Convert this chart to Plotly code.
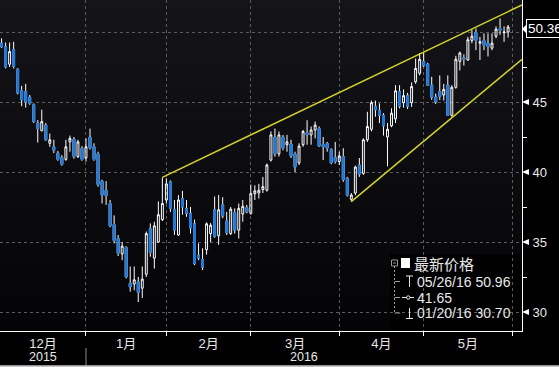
import pandas as pd
import plotly.graph_objects as go

# ---------------- data ----------------
holidays = ["2015-12-25", "2016-01-01", "2016-03-25"]
trade_dates = [d for d in pd.bdate_range("2015-12-02", "2016-05-31")
               if d.strftime("%Y-%m-%d") not in holidays]

opens = [
    49.2, 48.95, 47.7, 48.75, 47.35, 45.8, 45.75, 45.35, 44.8, 43.5, 42.95, 43.35, 42.05, 41.8, 41.35, 41.05, 40.9, 42.15, 42.35, 41.1, 41.7,
    41.0, 42.5, 41.8, 41.3, 39.35, 38.7, 37.75, 36.25, 35.25, 34.15, 34.6, 32.05, 32.0, 32.15, 31.7, 32.7, 35.95, 33.85, 35.0, 36.6,
    38.0, 39.3, 37.3, 35.5, 38.1, 37.4, 37.05, 36.3, 34.05, 33.75, 34.45, 35.6, 37.3, 35.45, 37.65, 36.5, 35.6, 37.1, 35.85, 37.0, 37.45,
    37.05, 38.45, 38.5, 38.75, 38.7, 40.85, 42.5, 41.3, 42.5, 41.95, 42.0, 41.3, 40.65, 41.95, 42.8, 42.65, 43.0, 43.1, 41.95, 42.05, 41.6, 41.05,
    40.75, 41.1, 39.55, 38.05, 38.5, 40.5, 39.9, 42.3, 43.05, 44.7, 44.4, 44.05, 42.5, 43.3, 43.8, 45.75, 44.95, 45.45, 44.95, 46.45, 47.05,
    47.9, 47.7, 46.2, 45.35, 45.75, 45.5, 46.2, 44.05, 46.05, 47.9, 48.15, 48.0, 49.4, 49.95, 49.2, 49.4, 49.2, 48.85, 49.7, 50.25, 49.95, 50.0,
]
highs = [
    49.55, 49.25, 49.25, 49.3, 47.4, 46.15, 46.3, 45.5, 44.9, 43.7, 44.45, 43.5, 42.75, 42.3, 41.5, 41.2, 42.3, 42.6, 42.5, 42.3, 41.85,
    42.4, 43.1, 42.05, 41.45, 39.45, 39.35, 38.0, 36.9, 35.5, 35.0, 34.7, 33.25, 33.25, 32.5, 33.25, 35.75, 36.33, 36.45, 37.9, 39.62,
    39.55, 39.4, 38.0, 38.35, 38.65, 38.0, 37.5, 36.6, 34.9, 34.55, 36.4, 36.35, 38.25, 38.35, 38.2, 37.15, 37.5, 37.4, 37.75, 38.0, 37.65,
    39.1, 39.05, 39.15, 39.65, 40.6, 42.9, 43.1, 42.9, 42.65, 42.65, 42.3, 41.45, 42.05, 43.0, 43.7, 43.25, 43.6, 43.25, 42.5, 42.15, 41.7, 42.15,
    41.45, 41.7, 39.65, 38.5, 40.45, 41.0, 42.4, 44.3, 45.1, 45.1, 44.9, 44.2, 43.5, 44.55, 46.2, 46.2, 45.9, 45.65, 46.4, 48.1, 48.5,
    48.55, 47.8, 46.8, 45.6, 46.9, 46.3, 46.9, 46.2, 48.3, 48.6, 48.4, 49.65, 50.15, 50.25, 49.65, 49.9, 49.9, 49.9, 50.4, 50.96, 50.4, 50.5,
]
lows = [
    48.85, 47.4, 47.5, 47.4, 45.55, 44.7, 44.6, 44.8, 43.5, 42.1, 42.9, 42.25, 41.8, 41.35, 40.8, 40.45, 40.8, 41.45, 40.95, 41.0, 40.8,
    40.75, 41.6, 40.8, 38.95, 37.75, 37.65, 36.05, 34.9, 34.0, 33.7, 32.4, 31.45, 31.55, 30.7, 31.0, 32.5, 33.95, 33.1, 34.95, 36.5,
    37.75, 37.15, 35.5, 35.45, 36.95, 36.8, 35.6, 33.35, 33.7, 33.0, 34.1, 35.0, 35.3, 34.8, 36.7, 35.5, 35.5, 35.6, 35.25, 36.45, 37.05,
    36.95, 38.0, 38.1, 38.5, 38.6, 40.75, 41.1, 41.1, 41.55, 41.45, 41.0, 40.0, 40.5, 41.8, 41.95, 41.95, 42.4, 41.8, 40.85, 41.45, 40.55, 40.6,
    40.5, 39.3, 38.25, 37.88, 38.35, 39.65, 39.8, 42.15, 42.9, 43.95, 43.5, 42.6, 40.4, 43.2, 43.5, 44.55, 44.6, 44.5, 44.65, 46.3, 46.9,
    47.5, 46.15, 45.15, 44.85, 45.15, 45.1, 44.0, 43.95, 45.95, 47.25, 47.6, 47.95, 49.2, 48.7, 48.0, 48.7, 48.25, 48.7, 49.55, 49.8, 49.3, 49.6,
]
closes = [
    48.95, 47.5, 48.6, 47.55, 45.65, 45.15, 45.0, 44.9, 43.6, 43.1, 43.6, 42.3, 42.3, 41.55, 40.9, 40.55, 41.8, 42.4, 41.1, 42.15, 40.9,
    41.8, 41.7, 40.9, 39.1, 38.35, 38.3, 36.15, 35.1, 34.2, 34.7, 32.5, 31.8, 32.3, 31.4, 32.35, 35.6, 34.25, 36.15, 36.95, 37.75,
    39.15, 37.4, 35.85, 38.0, 37.5, 37.05, 36.0, 33.45, 33.85, 33.2, 36.3, 36.2, 35.4, 37.3, 36.85, 35.65, 37.35, 35.85, 37.4, 37.55, 37.15,
    38.45, 38.65, 38.7, 38.95, 40.5, 42.65, 41.3, 42.65, 41.7, 42.15, 41.15, 40.35, 41.85, 42.9, 42.65, 43.0, 43.35, 41.85, 41.8, 41.7, 40.65, 40.75,
    41.15, 39.45, 38.35, 38.35, 40.35, 39.85, 42.3, 43.25, 44.95, 44.45, 44.05, 43.3, 43.05, 44.2, 45.8, 44.7, 45.45, 44.7, 46.1, 47.4, 48.05,
    47.6, 46.2, 45.35, 45.0, 45.4, 45.9, 44.05, 46.05, 48.05, 48.5, 48.05, 49.45, 49.7, 49.4, 49.3, 49.05, 48.95, 49.2, 50.2, 50.1, 50.0, 50.36,
]

month_labels = ["12月", "1月", "2月", "3月", "4月", "5月"]
year_labels = ["2015", "2016"]
y_tick_vals = [30, 35, 40, 45, 50]
y_tick_text = ["30", "35", "40", "45", ""]
y_minor_vals = [32.5, 37.5, 42.5, 47.5]
last_price = 50.36
legend_title = "最新价格"
legend_rows = ["05/26/16 50.96", "41.65", "01/20/16 30.70"]
trend_start_dates = ["2016-01-29", "2016-04-06"]
trend_start_prices = [39.62, 37.88]
trend_edge_prices = [51.93, 48.05]

# ---------------- layout geometry ----------------
W, H = 559, 367
PLOT_R, PLOT_B = 522, 331          # plot area right / bottom edge in px
X_MIN, X_MAX = -0.39, 129.46
Y_MIN, Y_MAX = 28.643, 52.286

n = len(trade_dates)
idx = list(range(n))
date_str = [d.strftime("%Y-%m-%d") for d in trade_dates]

def PX(px):
    return px / PLOT_R

def PY(py):
    return (PLOT_B - py) / PLOT_B

# month boundaries (first trading day of each month) and label centres
bounds = [i for i in range(1, n) if trade_dates[i].month != trade_dates[i - 1].month]
bounds_all = bounds + [n]                      # start of the next (June) month
starts = [X_MIN] + bounds
month_centres = [(a + b) / 2 for a, b in zip(starts, bounds_all)]
year_split = bounds[0]
year_centres = [(X_MIN + year_split) / 2, (year_split + X_MAX) / 2]

BLUE = "#1f78d8"
YELLOW = "#d2d22c"
GRID = "#5c5c5c"
TXT = "#e8e8e8"
FONT = "Liberation Sans, Noto Sans CJK SC, sans-serif"
CJK = "Noto Sans CJK SC, sans-serif"

fig = go.Figure()

# all candles (white wicks, hollow up bodies)
fig.add_trace(go.Candlestick(
    x=idx, open=opens, high=highs, low=lows, close=closes,
    increasing=dict(line=dict(color="white", width=1), fillcolor="rgba(0,0,0,0)"),
    decreasing=dict(line=dict(color="white", width=1), fillcolor=BLUE),
    whiskerwidth=0, hoverinfo="skip", showlegend=False,
))
# blue body overlay for down candles
dn = [i for i in idx if closes[i] < opens[i]]
fig.add_trace(go.Candlestick(
    x=dn, open=[opens[i] for i in dn], close=[closes[i] for i in dn],
    high=[opens[i] for i in dn], low=[closes[i] for i in dn],
    increasing=dict(line=dict(color=BLUE, width=1), fillcolor=BLUE),
    decreasing=dict(line=dict(color=BLUE, width=1), fillcolor=BLUE),
    whiskerwidth=0, hoverinfo="skip", showlegend=False,
))

# trend lines
for d, p0, p1 in zip(trend_start_dates, trend_start_prices, trend_edge_prices):
    i0 = date_str.index(d)
    fig.add_trace(go.Scatter(x=[i0, X_MAX], y=[p0, p1], mode="lines",
                             line=dict(color=YELLOW, width=1.5),
                             hoverinfo="skip", showlegend=False))

shapes = []
# background gradient
NB = 30
top_c, bot_c = (21, 21, 25), (4, 4, 7)
for k in range(NB):
    t = (k + 0.5) / NB
    c = tuple(round(top_c[j] + (bot_c[j] - top_c[j]) * t) for j in range(3))
    shapes.append(dict(type="rect", xref="paper", yref="paper", x0=0, x1=1,
                       y0=1 - (k + 1) / NB, y1=1 - k / NB + 0.002,
                       fillcolor="rgb(%d,%d,%d)" % c, line=dict(width=0), layer="below"))

# legend background
shapes.append(dict(type="rect", xref="paper", yref="paper", x0=PX(390), x1=PX(520.5),
                   y0=PY(330.5), y1=PY(254), fillcolor="black", line=dict(width=0), layer="between"))

# y tick markers (small triangles on the axis)
for v in y_tick_vals[:4]:
    shapes.append(dict(type="path", xref="paper", yref="y", xsizemode="pixel", ysizemode="pixel",
                       xanchor=1, yanchor=v, path="M0,0 L7,3 L7,-3 Z",
                       fillcolor="white", line=dict(width=0), layer="above"))
# last price marker
shapes.append(dict(type="path", xref="paper", yref="y", xsizemode="pixel", ysizemode="pixel",
                   xanchor=1, yanchor=last_price, path="M0,-2 L5,3 L5,-7 Z",
                   fillcolor="white", line=dict(width=0), layer="above"))

# legend tree / icons
LG = "#9a9a9a"
shapes += [
    dict(type="rect", xref="paper", yref="paper", x0=PX(391.5), x1=PX(397.5), y0=PY(266), y1=PY(260),
         line=dict(color=LG, width=1), fillcolor="rgba(0,0,0,0)", layer="above"),
    dict(type="line", xref="paper", yref="paper", x0=PX(393), x1=PX(396), y0=PY(263), y1=PY(263),
         line=dict(color=LG, width=1), layer="above"),
    dict(type="rect", xref="paper", yref="paper", x0=PX(401), x1=PX(410), y0=PY(268), y1=PY(258),
         line=dict(width=0), fillcolor="white", layer="above"),
    dict(type="line", xref="paper", yref="paper", x0=PX(394.5), x1=PX(394.5), y0=PY(266), y1=PY(313),
         line=dict(color=LG, width=1, dash="2px,2px"), layer="above"),
]
for ry in [281.5, 297.5, 313]:
    shapes.append(dict(type="line", xref="paper", yref="paper", x0=PX(394.5), x1=PX(400), y0=PY(ry), y1=PY(ry),
                       line=dict(color=LG, width=1), layer="above"))
# high marker (T), average marker (-o-), low marker (⊥)
shapes += [
    dict(type="line", xref="paper", yref="paper", x0=PX(406), x1=PX(413), y0=PY(276), y1=PY(276),
         line=dict(color=TXT, width=1), layer="above"),
    dict(type="line", xref="paper", yref="paper", x0=PX(409.5), x1=PX(409.5), y0=PY(276), y1=PY(287),
         line=dict(color=TXT, width=1), layer="above"),
    dict(type="line", xref="paper", yref="paper", x0=PX(402), x1=PX(414), y0=PY(297.5), y1=PY(297.5),
         line=dict(color=TXT, width=1), layer="above"),
    dict(type="circle", xref="paper", yref="paper", x0=PX(406.5), x1=PX(410), y0=PY(299.2), y1=PY(295.8),
         line=dict(color=TXT, width=1), fillcolor="black", layer="above"),
    dict(type="line", xref="paper", yref="paper", x0=PX(406), x1=PX(413), y0=PY(318.5), y1=PY(318.5),
         line=dict(color=TXT, width=1), layer="above"),
    dict(type="line", xref="paper", yref="paper", x0=PX(409.5), x1=PX(409.5), y0=PY(308), y1=PY(318.5),
         line=dict(color=TXT, width=1), layer="above"),
]
# year separator and bottom strip
shapes.append(dict(type="line", xref="x", yref="paper", x0=year_split, x1=year_split,
                   y0=PY(348), y1=PY(366), line=dict(color="#8a8a8a", width=1)))
shapes.append(dict(type="line", xref="paper", yref="paper", x0=0, x1=W / PLOT_R,
                   y0=PY(366.2), y1=PY(366.2), line=dict(color="#c4c4c4", width=2)))

annotations = []
for lbl, xc in zip(year_labels, year_centres):
    annotations.append(dict(x=xc, y=PY(357), xref="x", yref="paper", text=lbl, showarrow=False,
                            xanchor="center", yanchor="middle", font=dict(size=12.5, color=TXT, family=FONT)))
annotations.append(dict(x=1, y=last_price, xref="paper", yref="y", xshift=4, yshift=-2, text=f"{last_price:.2f}",
                        showarrow=False, xanchor="left", yanchor="middle", bgcolor="black",
                        bordercolor="white", borderwidth=1, borderpad=1,
                        font=dict(size=13.5, color="white", family=FONT)))
annotations.append(dict(x=PX(412), y=PY(263), xref="paper", yref="paper", text=legend_title, showarrow=False,
                        xanchor="left", yanchor="middle", font=dict(size=15, color=TXT, family=CJK)))
for txt, ry in zip(legend_rows, [281.5, 297.5, 313]):
    annotations.append(dict(x=PX(415), y=PY(ry), xref="paper", yref="paper", text=txt, showarrow=False,
                            xanchor="left", yanchor="middle", font=dict(size=14, color=TXT, family=FONT)))

fig.update_layout(
    width=W, height=H,
    margin=dict(l=0, r=W - PLOT_R, t=0, b=H - PLOT_B, pad=0),
    paper_bgcolor="black", plot_bgcolor="rgb(12,12,16)",
    showlegend=False, boxgap=0.32,
    shapes=shapes, annotations=annotations,
    xaxis=dict(
        range=[X_MIN, X_MAX], rangeslider=dict(visible=False),
        tickmode="array", tickvals=month_centres, ticktext=month_labels,
        ticks="", showgrid=False, zeroline=False,
        showline=True, linecolor="white", linewidth=1,
        tickfont=dict(size=13, color=TXT, family=FONT),
        minor=dict(tickmode="array", tickvals=bounds_all, ticks="outside", ticklen=4,
                   tickcolor="white", tickwidth=1, showgrid=True, gridcolor=GRID,
                   griddash="3px,3px", gridwidth=1),
    ),
    yaxis=dict(
        range=[Y_MIN, Y_MAX], side="right",
        tickmode="array", tickvals=y_tick_vals, ticktext=y_tick_text,
        ticks="outside", ticklen=7, tickcolor="rgba(0,0,0,0)",
        showgrid=True, gridcolor=GRID, griddash="3px,3px", gridwidth=1, zeroline=False,
        showline=True, linecolor="white", linewidth=1,
        tickfont=dict(size=13, color=TXT, family=FONT),
        minor=dict(tickmode="array", tickvals=y_minor_vals, ticks="outside", ticklen=4,
                   tickcolor="white", showgrid=False),
    ),
)

fig.write_html("out.html")
